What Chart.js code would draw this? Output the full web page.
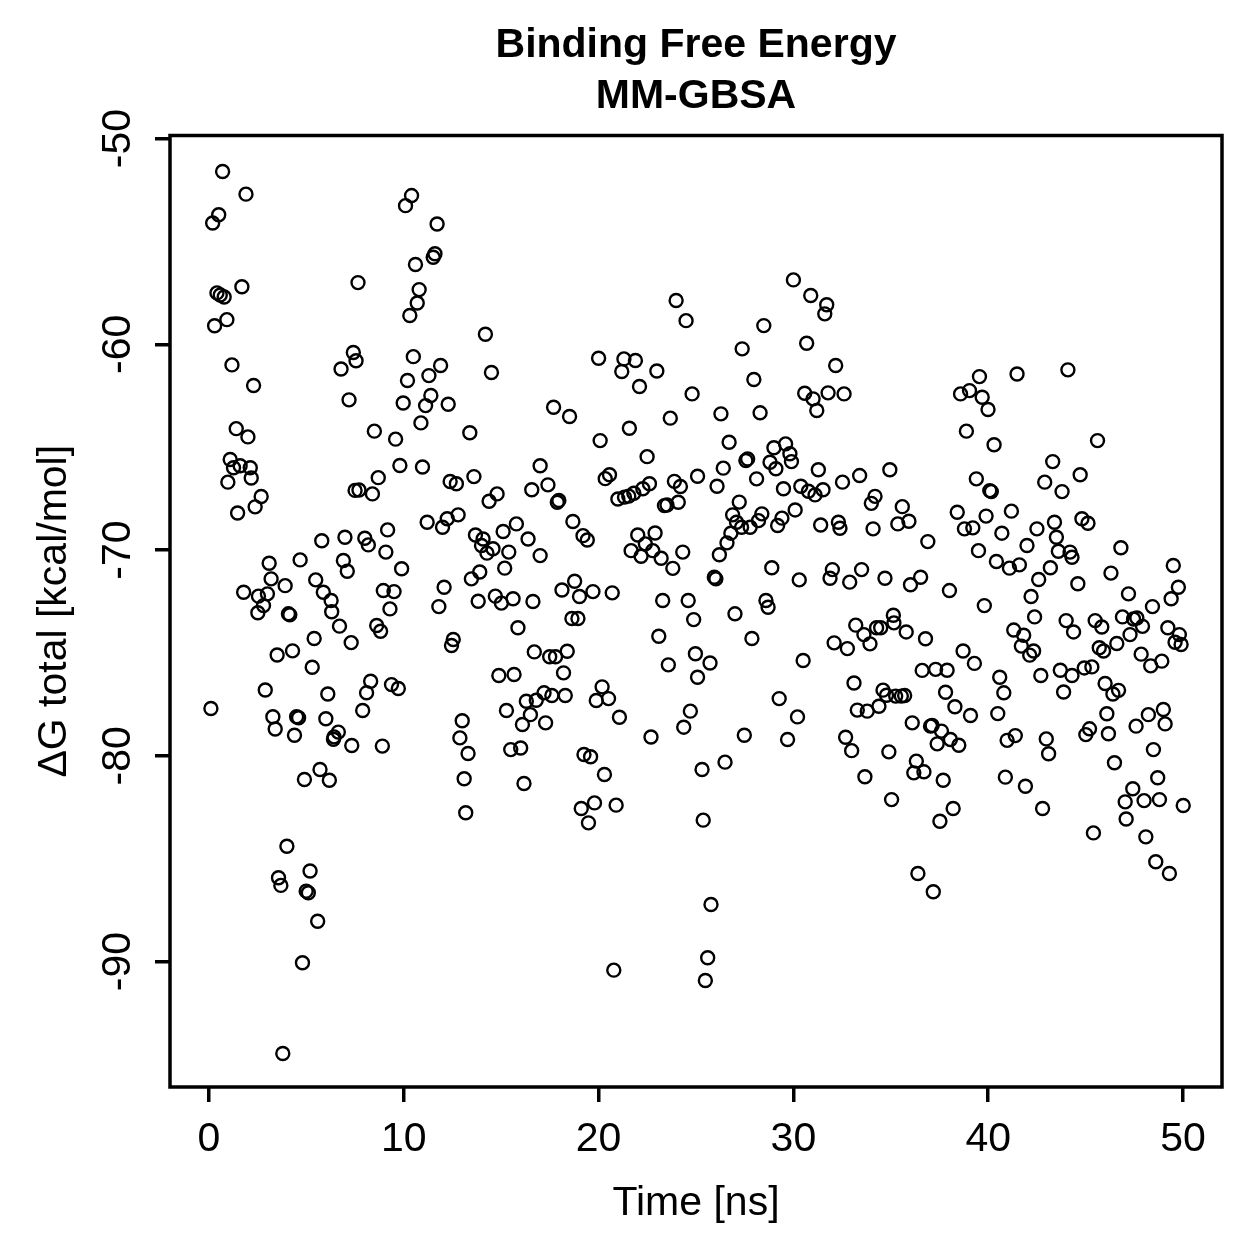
<!DOCTYPE html>
<html>
<head>
<meta charset="utf-8">
<title>Binding Free Energy MM-GBSA</title>
<script src="https://cdn.jsdelivr.net/npm/chart.js@4.4.1/dist/chart.umd.min.js"></script>
<style>
  html, body { margin: 0; padding: 0; background: #fff; }
  #wrap { width: 1259px; height: 1259px; }
</style>
</head>
<body>
<div id="wrap"><canvas id="myChart" width="1259" height="1259"></canvas></div>
<script>
'use strict';

// time in ns
let timeNs = [
  0.10, 0.19, 0.29, 0.41, 0.50, 0.58, 0.70, 0.78, 0.92, 0.97,
  1.09, 1.18, 1.26, 1.40, 1.47, 1.60, 1.69, 1.78, 1.90, 2.00,
  2.12, 2.17, 2.29, 2.37, 2.51, 2.54, 2.68, 2.80, 2.89, 3.00,
  3.09, 3.19, 3.28, 3.40, 3.50, 3.57, 3.69, 3.79, 3.91, 4.00,
  4.08, 4.15, 4.29, 4.39, 4.50, 4.60, 4.68, 4.80, 4.90, 4.99,
  5.10, 5.19, 5.30, 5.40, 5.48, 5.58, 5.70, 5.79, 5.87, 6.00,
  6.10, 6.18, 6.27, 6.30, 6.39, 6.42, 6.64, 6.70, 6.78, 6.90,
  6.98, 7.10, 7.19, 7.30, 7.33, 7.41, 7.50, 7.55, 7.65, 7.70,
  7.89, 8.00, 8.09, 8.18, 8.30, 8.39, 8.49, 8.61, 8.69, 8.81,
  8.90, 8.95, 9.08, 9.17, 9.29, 9.37, 9.50, 9.58, 9.72, 9.80,
  9.89, 9.97, 10.09, 10.19, 10.31, 10.40, 10.49, 10.60, 10.69, 10.79,
  10.88, 10.96, 11.12, 11.20, 11.29, 11.39, 11.51, 11.60, 11.71, 11.80,
  11.89, 11.99, 12.07, 12.23, 12.28, 12.38, 12.45, 12.54, 12.70, 12.79,
  12.88, 13.00, 13.10, 13.18, 13.30, 13.39, 13.47, 13.60, 13.68, 13.82,
  13.90, 13.99, 14.07, 14.19, 14.27, 14.38, 14.50, 14.58, 14.70, 14.79,
  14.88, 15.01, 15.10, 15.18, 15.27, 15.39, 15.49, 15.61, 15.66, 15.78,
  15.86, 16.00, 16.09, 16.17, 16.29, 16.38, 16.50, 16.57, 16.63, 16.70,
  16.80, 17.00, 17.00, 17.20, 17.28, 17.40, 17.49, 17.60, 17.69, 17.79,
  17.88, 17.96, 18.12, 18.20, 18.29, 18.39, 18.51, 18.63, 18.68, 18.77,
  18.94, 19.02, 19.11, 19.20, 19.25, 19.42, 19.48, 19.59, 19.71, 19.79,
  19.88, 20.00, 20.08, 20.18, 20.30, 20.34, 20.51, 20.56, 20.70, 20.78,
  20.90, 20.99, 21.07, 21.19, 21.30, 21.33, 21.55, 21.58, 21.67, 21.81,
  21.89, 22.01, 22.10, 22.18, 22.27, 22.40, 22.49, 22.61, 22.69, 22.78,
  22.90, 22.99, 23.09, 23.21, 23.29, 23.38, 23.51, 23.58, 23.68, 23.81,
  23.89, 23.98, 24.09, 24.20, 24.32, 24.37, 24.49, 24.60, 24.71, 24.80,
  24.88, 24.97, 25.08, 25.08, 25.31, 25.37, 25.48, 25.60, 25.72, 25.77,
  25.94, 26.02, 26.08, 26.20, 26.28, 26.40, 26.49, 26.59, 26.70, 26.79,
  26.88, 27.00, 27.08, 27.22, 27.34, 27.37, 27.48, 27.56, 27.65, 27.78,
  27.87, 27.97, 28.11, 28.21, 28.29, 28.38, 28.48, 28.59, 28.70, 28.80,
  28.89, 29.00, 29.10, 29.19, 29.27, 29.41, 29.49, 29.60, 29.70, 29.82,
  29.90, 30.00, 30.09, 30.21, 30.30, 30.38, 30.50, 30.58, 30.68, 30.77,
  30.89, 31.01, 31.11, 31.20, 31.28, 31.40, 31.52, 31.61, 31.71, 31.78,
  31.88, 32.00, 32.09, 32.17, 32.31, 32.39, 32.52, 32.60, 32.68, 32.77,
  32.89, 32.99, 33.11, 33.20, 33.28, 33.40, 33.50, 33.62, 33.67, 33.79,
  33.93, 34.00, 34.09, 34.19, 34.27, 34.39, 34.48, 34.60, 34.70, 34.78,
  34.90, 34.95, 35.04, 35.13, 35.16, 35.25, 35.36, 35.54, 35.59, 35.71,
  35.79, 35.93, 36.01, 36.10, 36.18, 36.31, 36.39, 36.53, 36.61, 36.70,
  36.78, 36.90, 37.04, 37.12, 37.18, 37.30, 37.38, 37.52, 37.60, 37.69,
  37.81, 37.89, 38.01, 38.06, 38.20, 38.29, 38.41, 38.49, 38.58, 38.71,
  38.78, 38.88, 39.04, 39.09, 39.21, 39.29, 39.39, 39.50, 39.55, 39.69,
  39.80, 39.89, 39.99, 40.08, 40.16, 40.30, 40.42, 40.49, 40.59, 40.70,
  40.80, 40.88, 40.97, 41.09, 41.19, 41.31, 41.39, 41.48, 41.60, 41.70,
  41.82, 41.91, 41.99, 42.13, 42.20, 42.33, 42.38, 42.50, 42.59, 42.70,
  42.79, 42.90, 42.98, 43.10, 43.19, 43.31, 43.40, 43.50, 43.60, 43.70,
  43.79, 43.87, 44.00, 44.09, 44.20, 44.30, 44.30, 44.38, 44.60, 44.72,
  44.81, 44.93, 45.01, 45.12, 45.20, 45.32, 45.40, 45.49, 45.61, 45.70,
  45.83, 45.92, 46.00, 46.09, 46.17, 46.30, 46.40, 46.48, 46.60, 46.69,
  46.81, 46.89, 47.03, 47.08, 47.20, 47.28, 47.42, 47.46, 47.59, 47.63,
  47.85, 47.92, 48.00, 48.09, 48.22, 48.34, 48.43, 48.48, 48.60, 48.70,
  48.79, 48.91, 48.99, 49.08, 49.22, 49.30, 49.39, 49.50, 49.59, 49.76,
  49.81, 49.90, 50.01
];

// total binding free energy in kcal/mol, same order as timeNs
let deltaG = [
  -77.70, -54.10, -59.10, -57.50, -53.70, -57.60, -51.60, -57.70, -58.80, -66.70,
  -65.60, -61.00, -66.00, -64.10, -68.20, -65.90, -57.20, -72.05, -52.70, -64.50,
  -66.00, -66.50, -62.00, -67.90, -73.05, -72.24, -67.40, -72.70, -76.80, -72.13,
  -70.64, -71.40, -78.10, -78.70, -75.10, -85.93, -86.30, -94.47, -71.73, -84.40,
  -73.10, -73.15, -74.90, -79.00, -78.10, -78.15, -70.48, -90.06, -81.15, -86.58,
  -86.66, -85.60, -75.70, -74.30, -71.45, -88.04, -80.67, -69.55, -72.05, -78.20,
  -77.00, -81.19, -72.45, -73.00, -79.20, -79.08, -78.85, -73.70, -61.20, -70.51,
  -69.38, -71.03, -62.70, -74.50, -79.50, -60.40, -67.10, -60.80, -57.00, -67.08,
  -77.80, -69.43, -76.94, -69.75, -76.38, -67.27, -64.22, -73.67, -66.48, -73.95,
  -79.53, -71.97, -70.10, -69.02, -72.86, -76.54, -72.02, -64.61, -76.73, -65.89,
  -70.91, -62.85, -53.26, -61.76, -58.60, -52.77, -60.60, -56.12, -57.99, -57.34,
  -63.82, -65.96, -62.98, -68.65, -61.52, -62.49, -55.77, -55.60, -54.15, -72.75,
  -61.03, -68.89, -71.81, -68.48, -62.91, -66.67, -74.64, -74.35, -66.78, -68.29,
  -79.13, -78.30, -81.12, -82.77, -79.89, -64.30, -71.40, -66.43, -69.27, -72.49,
  -71.07, -69.78, -69.46, -59.51, -70.15, -67.63, -61.37, -69.94, -72.24, -67.27,
  -76.10, -72.58, -69.10, -70.88, -77.80, -70.10, -79.70, -72.37, -76.05, -68.73,
  -73.78, -79.62, -78.48, -81.35, -77.35, -69.46, -78.00, -67.07, -72.50, -74.95,
  -77.30, -70.27, -65.90, -76.94, -78.40, -66.83, -75.19, -77.07, -63.06, -75.19,
  -67.68, -67.59, -71.94, -75.97, -77.07, -74.92, -63.51, -73.33, -68.61, -71.52,
  -73.33, -72.26, -82.56, -69.30, -79.94, -69.51, -83.26, -80.05, -72.02, -82.29,
  -77.31, -60.68, -64.68, -76.65, -80.91, -66.53, -77.22, -66.34, -72.08, -90.42,
  -82.40, -67.52, -78.13, -61.32, -60.71, -67.43, -67.38, -64.08, -70.03, -67.24,
  -60.79, -69.27, -62.05, -70.30, -67.02, -69.70, -65.46, -66.78, -79.09, -70.03,
  -69.17, -61.30, -74.19, -70.40, -72.45, -67.84, -67.81, -75.58, -63.59, -70.89,
  -66.66, -57.87, -67.68, -66.91, -70.10, -78.61, -58.85, -72.45, -77.83, -62.41,
  -73.38, -75.04, -66.41, -76.18, -80.67, -83.13, -90.92, -89.82, -75.49, -87.23,
  -71.32, -71.40, -66.90, -70.23, -63.38, -66.02, -80.31, -69.65, -64.76, -69.18,
  -68.29, -73.10, -68.65, -67.67, -68.89, -60.22, -79.00, -65.65, -65.57, -68.89,
  -74.30, -61.71, -66.54, -68.57, -63.33, -68.24, -59.09, -72.45, -72.78, -65.73,
  -70.86, -65.03, -66.05, -68.81, -77.22, -68.45, -67.02, -64.84, -79.21, -65.32,
  -65.70, -56.87, -68.05, -78.11, -71.45, -66.90, -75.37, -62.38, -59.95, -67.14,
  -57.63, -62.65, -67.32, -63.22, -66.10, -68.78, -67.07, -58.52, -58.08, -62.36,
  -71.37, -70.95, -74.51, -61.03, -68.65, -68.94, -66.70, -62.41, -79.10, -74.79,
  -71.56, -79.75, -76.46, -73.65, -77.78, -66.38, -70.95, -74.11, -81.02, -77.83,
  -74.56, -67.73, -68.97, -67.39, -73.78, -77.59, -73.78, -76.81, -71.37, -77.06,
  -79.81, -66.10, -82.13, -73.17, -73.54, -77.10, -68.73, -77.10, -67.89, -77.07,
  -73.98, -68.60, -71.69, -78.40, -80.83, -80.26, -85.72, -71.32, -75.85, -80.78,
  -74.31, -69.59, -78.56, -78.53, -86.61, -75.80, -79.42, -83.18, -78.80, -81.19,
  -76.91, -75.84, -71.97, -79.21, -82.56, -77.62, -68.16, -79.49, -62.41, -74.91,
  -68.97, -64.22, -62.25, -78.04, -68.92, -75.51, -66.54, -70.03, -61.57, -62.57,
  -72.70, -68.35, -63.17, -67.11, -67.16, -64.88, -70.56, -77.95, -76.18, -69.18,
  -76.94, -81.04, -79.25, -70.88, -68.11, -73.89, -79.02, -61.44, -70.72, -74.67,
  -74.14, -81.48, -69.78, -75.11, -72.26, -74.91, -73.25, -68.97, -71.43, -76.10,
  -82.56, -66.70, -79.18, -79.90, -70.86, -65.70, -68.65, -69.38, -70.06, -75.84,
  -67.16, -76.90, -73.43, -61.24, -70.10, -70.35, -76.10, -73.98, -71.64, -66.34,
  -68.48, -75.73, -78.97, -68.70, -78.69, -75.68, -83.75, -73.43, -64.68, -74.75,
  -73.74, -74.91, -76.49, -77.96, -78.93, -71.12, -77.00, -80.34, -74.54, -76.82,
  -69.89, -73.25, -82.24, -83.07, -72.13, -74.11, -81.60, -73.35, -78.56, -73.30,
  -75.06, -73.71, -82.18, -83.94, -78.00, -75.63, -72.75, -79.70, -85.15, -81.07,
  -82.13, -75.40, -77.75, -78.45, -73.78, -85.72, -72.37, -70.75, -74.48, -71.81,
  -74.11, -74.59, -82.42
];

// axis ticks
let xTicks = [0, 10, 20, 30, 40, 50];
let yTicks = [-50, -60, -70, -80, -90];
let yTickLabels = ['-50', '-60', '-70', '-80', '-90'];

let fontFamily = '"Liberation Sans", Arial, Helvetica, sans-serif';

let points = [];
for (let i = 0; i < timeNs.length; i++) {
    points.push({ x: timeNs[i], y: deltaG[i] });
}

// box round the plot and the rotated y tick labels (R style)
const rStylePlugin = {
    id: 'rStyle',
    afterDraw(chart) {
        const ctx = chart.ctx;
        const area = chart.chartArea;
        const yScale = chart.scales.y;

        ctx.save();
        ctx.strokeStyle = '#000';
        ctx.lineWidth = 3.5;
        ctx.strokeRect(area.left, area.top, area.right - area.left, area.bottom - area.top);

        ctx.fillStyle = '#000';
        ctx.font = '41px ' + fontFamily;
        ctx.textAlign = 'center';
        ctx.textBaseline = 'middle';
        for (let i = 0; i < yTicks.length; i++) {
            ctx.save();
            ctx.translate(119, yScale.getPixelForValue(yTicks[i]));
            ctx.rotate(-Math.PI / 2);
            ctx.fillText(yTickLabels[i], 0, 0);
            ctx.restore();
        }
        ctx.restore();
    }
};

const config = {
    type: 'scatter',
    data: {
        datasets: [{
            label: 'dG total',
            data: points,
            pointStyle: 'circle',
            pointRadius: 6.5,
            pointHoverRadius: 6.5,
            pointBorderWidth: 2.4,
            pointBorderColor: '#000',
            pointBackgroundColor: 'rgba(0,0,0,0)',
            borderColor: '#000',
            backgroundColor: 'rgba(0,0,0,0)'
        }]
    },
    options: {
        responsive: false,
        animation: false,
        devicePixelRatio: 1,
        layout: {
            padding: { left: 0, right: 37, top: 0, bottom: 0 }
        },
        plugins: {
            legend: { display: false },
            tooltip: { enabled: false },
            title: {
                display: true,
                fullSize: false,
                text: ['Binding Free Energy', 'MM-GBSA'],
                color: '#000',
                font: { family: fontFamily, size: 41, weight: 'bold', lineHeight: 1.25 },
                padding: { top: 20, bottom: 13 }
            }
        },
        scales: {
            x: {
                type: 'linear',
                position: 'bottom',
                min: -2,
                max: 52,
                afterBuildTicks: (scale) => {
                    scale.ticks = xTicks.map(v => ({ value: v }));
                },
                afterFit: (scale) => {
                    scale.height = 172;
                },
                grid: {
                    drawOnChartArea: false,
                    drawTicks: true,
                    tickLength: 15,
                    color: '#000',
                    lineWidth: 3.5
                },
                border: { display: false },
                ticks: {
                    color: '#000',
                    padding: 13,
                    maxRotation: 0,
                    font: { family: fontFamily, size: 41 }
                },
                title: {
                    display: true,
                    text: 'Time [ns]',
                    color: '#000',
                    font: { family: fontFamily, size: 41 },
                    padding: { top: 0, bottom: 31 }
                }
            },
            y: {
                type: 'linear',
                position: 'left',
                min: -96.1,
                max: -49.85,
                afterBuildTicks: (scale) => {
                    scale.ticks = yTicks.map(v => ({ value: v }));
                },
                afterFit: (scale) => {
                    scale.width = 170;
                },
                grid: {
                    drawOnChartArea: false,
                    drawTicks: true,
                    tickLength: 15,
                    color: '#000',
                    lineWidth: 3.5
                },
                border: { display: false },
                ticks: { display: false },
                title: {
                    display: true,
                    text: 'ΔG total [kcal/mol]',
                    color: '#000',
                    font: { family: fontFamily, size: 41 },
                    padding: { top: 30, bottom: 0 }
                }
            }
        }
    },
    plugins: [rStylePlugin]
};

var myChart = new Chart(
    document.getElementById('myChart'),
    config
);
</script>
</body>
</html>
